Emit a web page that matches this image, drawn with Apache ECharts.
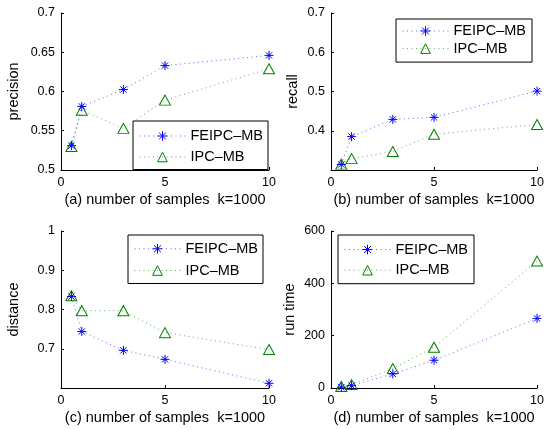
<!DOCTYPE html>
<html>
<head>
<meta charset="utf-8">
<script src="https://cdn.jsdelivr.net/npm/echarts@6/dist/echarts.min.js"></script>
<style>html,body{margin:0;padding:0;background:#fff}#c{width:547px;height:430px}</style>
</head>
<body>
<div id="c"></div>
<script>
var samples = [0.5, 1, 3, 5, 10];
var seriesNames = ['FEIPC–MB', 'IPC–MB'];
var precisionFE = [0.531, 0.581, 0.6025, 0.633, 0.646];
var precisionIPC = [0.530, 0.576, 0.553, 0.589, 0.629];
var recallFE = [0.314, 0.385, 0.429, 0.434, 0.501];
var recallIPC = [0.315, 0.329, 0.347, 0.391, 0.416];
var distanceFE = [0.833, 0.744, 0.696, 0.673, 0.612];
var distanceIPC = [0.835, 0.797, 0.797, 0.741, 0.698];
var runtimeFE = [3, 9, 54, 106, 266];
var runtimeIPC = [6, 13, 74, 156, 485];
var xNames = ['(a) number of samples  k=1000', '(b) number of samples  k=1000', '(c) number of samples  k=1000', '(d) number of samples  k=1000'];
var yNames = ['precision', 'recall', 'distance', 'run time'];

var FONT = 'Liberation Sans, Arial, Helvetica, sans-serif';
var grids = [
  {left: 61, top: 13, width: 208, height: 157},
  {left: 331, top: 13, width: 207, height: 157},
  {left: 61, top: 231, width: 208, height: 157},
  {left: 331, top: 231, width: 207, height: 157}
];
var yCfg = [
  {min: 0.5, max: 0.7, interval: 0.05, hideMin: false, gap: 40},
  {min: 0.3, max: 0.7, interval: 0.1, hideMin: true, gap: 31},
  {min: 0.6, max: 1.0, interval: 0.1, hideMin: true, gap: 40},
  {min: 0, max: 600, interval: 200, hideMin: false, gap: 34}
];
var feData = [precisionFE, recallFE, distanceFE, runtimeFE];
var ipcData = [precisionIPC, recallIPC, distanceIPC, runtimeIPC];
var legendPos = [
  {left: 133, top: 121, pad: [7.5, 5, 5, 6], gap: 6},
  {left: 396, top: 19, pad: [4.5, 6, 6, 6], gap: 2.6},
  {left: 128, top: 235, pad: [6.3, 5, 5.5, 6], gap: 6.7},
  {left: 338, top: 235, pad: [7, 6, 6, 6], gap: 5.7}
];
var ASTER = 'path://M0 5L10 5M5 0L5 10M1.5 1.5L8.5 8.5M8.5 1.5L1.5 8.5';

function pairs(xs, ys) { return xs.map(function (x, i) { return [x, ys[i]]; }); }

var xAxes = [], yAxes = [], series = [], legends = [];
for (var i = 0; i < 4; i++) {
  xAxes.push({
    type: 'value', gridIndex: i, min: 0, max: 10, interval: 5,
    name: xNames[i], nameLocation: 'middle', nameGap: 22,
    nameTextStyle: {fontFamily: FONT, fontSize: 14.5, color: '#000'},
    axisLine: {show: true, lineStyle: {color: '#000', width: 1}},
    axisTick: {show: true, inside: true, length: 3, lineStyle: {color: '#000'}},
    axisLabel: {fontFamily: FONT, fontSize: 12.5, color: '#000', margin: 6},
    splitLine: {show: false}
  });
  (function (cfg) {
    yAxes.push({
      type: 'value', gridIndex: i, min: cfg.min, max: cfg.max, interval: cfg.interval,
      name: yNames[i], nameLocation: 'middle', nameGap: cfg.gap,
      nameTextStyle: {fontFamily: FONT, fontSize: 14.5, color: '#000'},
      axisLine: {show: true, lineStyle: {color: '#000', width: 1}},
      axisTick: {show: true, inside: true, length: 3, lineStyle: {color: '#000'}},
      axisLabel: {fontFamily: FONT, fontSize: 12.5, color: '#000', margin: 6,
        formatter: function (v) {
          if (cfg.hideMin && Math.abs(v - cfg.min) < 1e-9) return '';
          return String(+v.toFixed(2));
        }},
      splitLine: {show: false}
    });
  })(yCfg[i]);
  series.push({
    type: 'line', name: seriesNames[0], xAxisIndex: i, yAxisIndex: i,
    data: pairs(samples, feData[i]),
    symbol: ASTER, symbolSize: 9,
    lineStyle: {color: '#3333ff', width: 1, type: [1, 3.5], opacity: 0.75},
    itemStyle: {color: '#0000ff', borderColor: '#0000ff', borderWidth: 1},
    emphasis: {disabled: true}, animation: false, z: 3
  });
  series.push({
    type: 'line', name: seriesNames[1], xAxisIndex: i, yAxisIndex: i,
    data: pairs(samples, ipcData[i]),
    symbol: 'triangle', symbolSize: [11, 10],
    lineStyle: {color: '#229922', width: 1, type: [1, 3.5], opacity: 0.75},
    itemStyle: {color: 'rgba(255,255,255,0)', borderColor: '#008000', borderWidth: 1},
    emphasis: {disabled: true}, animation: false, z: 2
  });
  legends.push({
    data: seriesNames, orient: 'vertical',
    left: legendPos[i].left, top: legendPos[i].top,
    padding: legendPos[i].pad, itemWidth: 46, itemHeight: 12, itemGap: legendPos[i].gap,
    backgroundColor: '#fff', borderColor: '#000', borderWidth: 1,
    itemStyle: {borderWidth: 1},
    lineStyle: {width: 1},
    textStyle: {fontFamily: FONT, fontSize: 14.5, color: '#000', lineHeight: 14},
    selectedMode: false
  });
}

var chart = echarts.init(document.getElementById('c'), null, {renderer: 'canvas'});
chart.setOption({
  backgroundColor: '#fff',
  animation: false,
  grid: grids,
  xAxis: xAxes,
  yAxis: yAxes,
  legend: legends,
  series: series
});
</script>
</body>
</html>
